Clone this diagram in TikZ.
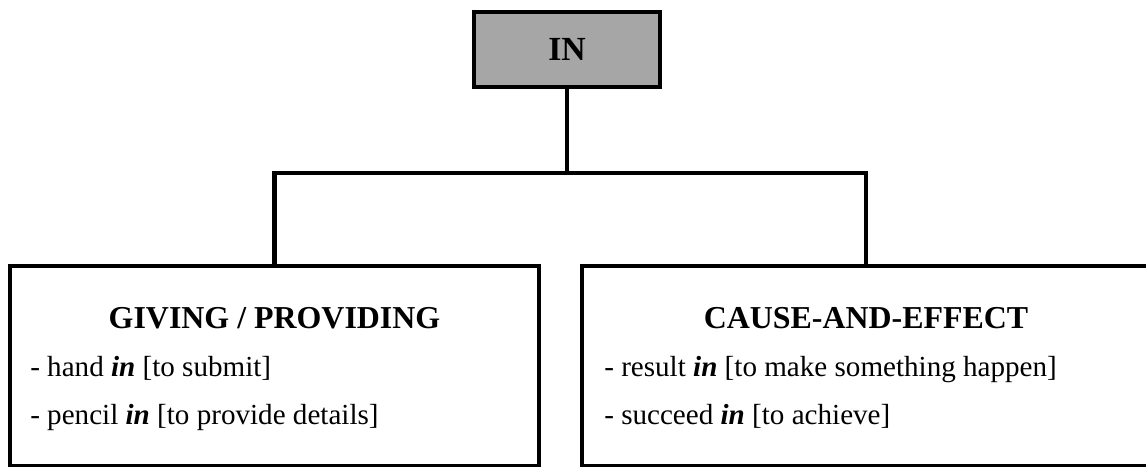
\documentclass[tikz,border=0pt]{standalone}
\usepackage{fontspec}
\setmainfont{Liberation Serif}
\definecolor{headgray}{HTML}{A6A6A6}
\newcommand{\kw}[1]{\textbf{\textit{#1}}}

\begin{document}
\begin{tikzpicture}
        \tikzset{catbox/.style={draw,line width=3pt,minimum width=#1,minimum height=5cm,inner sep=0pt},
                 cathead/.style={anchor=base,font=\fontsize{22.7}{26}\selectfont\bfseries},
                 item/.style={anchor=base west,font=\fontsize{20.7}{24}\selectfont,inner sep=0pt}}
        \useasboundingbox (0,0) rectangle (28.65,11.675);
        \node (in) at (14.175,10.4375) [draw,fill=headgray,line width=3.5pt,minimum width=4.65cm,minimum height=1.875cm,font=\fontsize{24}{28}\selectfont\bfseries] {IN};
        \node (give) at (6.8625,2.525) [catbox=13.225cm] {};
        \node (cause) at (21.65,2.525) [catbox=14.2cm] {};
        \coordinate (split) at (14.175,7.35);
        \draw [line width=3.5pt] (in.south) -- (split);
        \draw [line width=3.5pt] (give.north) |- (split) -| (cause.north);
        \node (givehead) at (6.8625,3.45) [cathead] {GIVING / PROVIDING};
        \node (give1) at (0.75,2.25) [item] {- hand \kw{in} [to submit]};
        \node (give2) at (0.75,1.05) [item] {- pencil \kw{in} [to provide details]};
        \node (causehead) at (21.65,3.45) [cathead] {CAUSE-AND-EFFECT};
        \node (cause1) at (15.1,2.25) [item] {- result \kw{in} [to make something happen]};
        \node (cause2) at (15.1,1.05) [item] {- succeed \kw{in} [to achieve]};
    \end{tikzpicture}
\end{document}
